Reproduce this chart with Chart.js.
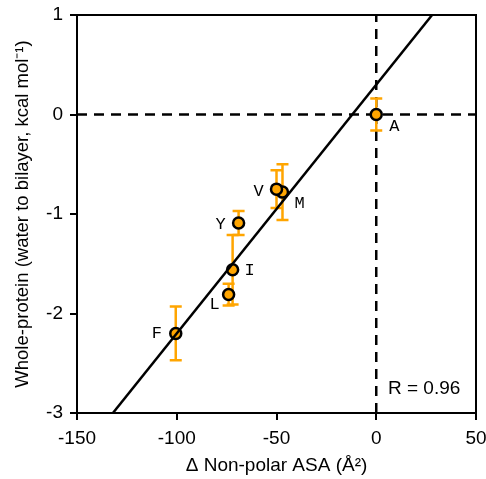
<!DOCTYPE html>
<html>
<head>
<meta charset="utf-8">
<script src="https://cdn.jsdelivr.net/npm/chart.js@4/dist/chart.umd.min.js"></script>
<style>
  html, body { margin: 0; padding: 0; background: #fff; }
  #wrap { width: 486px; height: 479px; }
</style>
</head>
<body>
<div id="wrap"><canvas id="scatter"></canvas></div>
<script>
// residues and their values
const residues = ['A', 'M', 'V', 'Y', 'I', 'L', 'F']
const deltaASA = [0, -47, -50, -69, -72, -74, -100.5]
const energy = [0, -0.78, -0.75, -1.09, -1.56, -1.81, -2.2]
const energyErr = [0.16, 0.28, 0.19, 0.12, 0.35, 0.11, 0.27]

// least-squares fit line, end points
const fitX = [-132, 28]
const fitY = [-3, 1]

const xTicks = [-150, -100, -50, 0, 50]
const yTicks = [-3, -2, -1, 0, 1]

// where the letter sits relative to its point (px)
const labelOffsets = [[18, 12], [17, 11], [-18, 2], [-18, 2], [17, 1], [-14, 10], [-19, 0]]

const orange = '#FFA500'

// error bars under the points, letters and R on top, closed box
const extras = {
    id: 'extras',
    beforeDatasetDraw(chart, args) {
        if (args.index !== 1) return
        const { ctx, scales } = chart
        ctx.save()
        ctx.strokeStyle = orange
        ctx.lineWidth = 2.5
        deltaASA.forEach((x, i) => {
            const px = scales.x.getPixelForValue(x)
            const top = scales.y.getPixelForValue(energy[i] + energyErr[i])
            const bot = scales.y.getPixelForValue(energy[i] - energyErr[i])
            ctx.beginPath()
            ctx.moveTo(px, top); ctx.lineTo(px, bot)
            ctx.moveTo(px - 6, top); ctx.lineTo(px + 6, top)
            ctx.moveTo(px - 6, bot); ctx.lineTo(px + 6, bot)
            ctx.stroke()
        })
        ctx.restore()
    },
    afterDatasetsDraw(chart) {
        const { ctx, scales, chartArea } = chart
        ctx.save()
        ctx.fillStyle = '#000'
        ctx.font = '17px "Liberation Mono", monospace'
        ctx.textAlign = 'center'
        ctx.textBaseline = 'middle'
        residues.forEach((r, i) => {
            const px = scales.x.getPixelForValue(deltaASA[i]) + labelOffsets[i][0]
            const py = scales.y.getPixelForValue(energy[i]) + labelOffsets[i][1]
            ctx.fillText(r, px, py)
        })
        ctx.font = '19px "Liberation Sans", Arial, sans-serif'
        ctx.textAlign = 'left'
        ctx.fillText('R = 0.96', chartArea.right - 88, chartArea.bottom - 24)
        ctx.strokeStyle = '#000'
        ctx.lineWidth = 2
        ctx.strokeRect(chartArea.left, chartArea.top, chartArea.right - chartArea.left, chartArea.bottom - chartArea.top)
        ctx.restore()
    }
}

const axisFont = { family: '"Liberation Sans", Arial, sans-serif', size: 19 }

new Chart(document.getElementById('scatter'), {
    type: 'scatter',
    data: {
        datasets: [
            {
                type: 'line',
                data: fitX.map((x, i) => ({ x, y: fitY[i] })),
                borderColor: '#000',
                borderWidth: 2.5,
                pointRadius: 0,
                order: 0
            },
            {
                data: deltaASA.map((x, i) => ({ x, y: energy[i] })),
                backgroundColor: orange,
                borderColor: '#000',
                borderWidth: 2.5,
                pointRadius: 5.5,
                order: 1
            },
            {
                type: 'line',
                data: [{ x: -150, y: 0 }, { x: 50, y: 0 }],
                borderColor: '#000',
                borderWidth: 2.5,
                borderDash: [10, 7],
                pointRadius: 0,
                order: 2
            },
            {
                type: 'line',
                data: [{ x: 0, y: -3 }, { x: 0, y: 1 }],
                borderColor: '#000',
                borderWidth: 2.5,
                borderDash: [10, 7],
                pointRadius: 0,
                order: 2
            }
        ]
    },
    options: {
        responsive: true,
        maintainAspectRatio: false,
        animation: false,
        layout: { padding: { top: 15, right: 10, left: 0, bottom: 0 } },
        plugins: { legend: { display: false }, tooltip: { enabled: false } },
        scales: {
            x: {
                type: 'linear',
                min: -150,
                max: 50,
                afterBuildTicks: (s) => { s.ticks = xTicks.map((v) => ({ value: v })) },
                afterFit: (s) => { s.height = 66; s.paddingLeft = 0; s.paddingRight = 0 },
                grid: { drawOnChartArea: false, color: '#000', lineWidth: 2, tickLength: 7 },
                border: { color: '#000', width: 2 },
                ticks: { color: '#000', font: axisFont, padding: 7, maxRotation: 0 },
                title: {
                    display: true,
                    text: 'Δ Non-polar ASA (Å²)',
                    color: '#000',
                    font: axisFont,
                    padding: { top: 2, bottom: 2 }
                }
            },
            y: {
                type: 'linear',
                min: -3,
                max: 1,
                afterBuildTicks: (s) => { s.ticks = yTicks.map((v) => ({ value: v })) },
                afterFit: (s) => { s.width = 77; s.paddingTop = 0; s.paddingBottom = 0 },
                grid: { drawOnChartArea: false, color: '#000', lineWidth: 2, tickLength: 7 },
                border: { color: '#000', width: 2 },
                ticks: { color: '#000', font: axisFont, padding: 7 },
                title: {
                    display: true,
                    text: 'Whole-protein (water to bilayer, kcal mol⁻¹)',
                    color: '#000',
                    font: { family: axisFont.family, size: 18.5 },
                    padding: { top: 12, bottom: 0 }
                }
            }
        }
    },
    plugins: [extras]
})
</script>
</body>
</html>
